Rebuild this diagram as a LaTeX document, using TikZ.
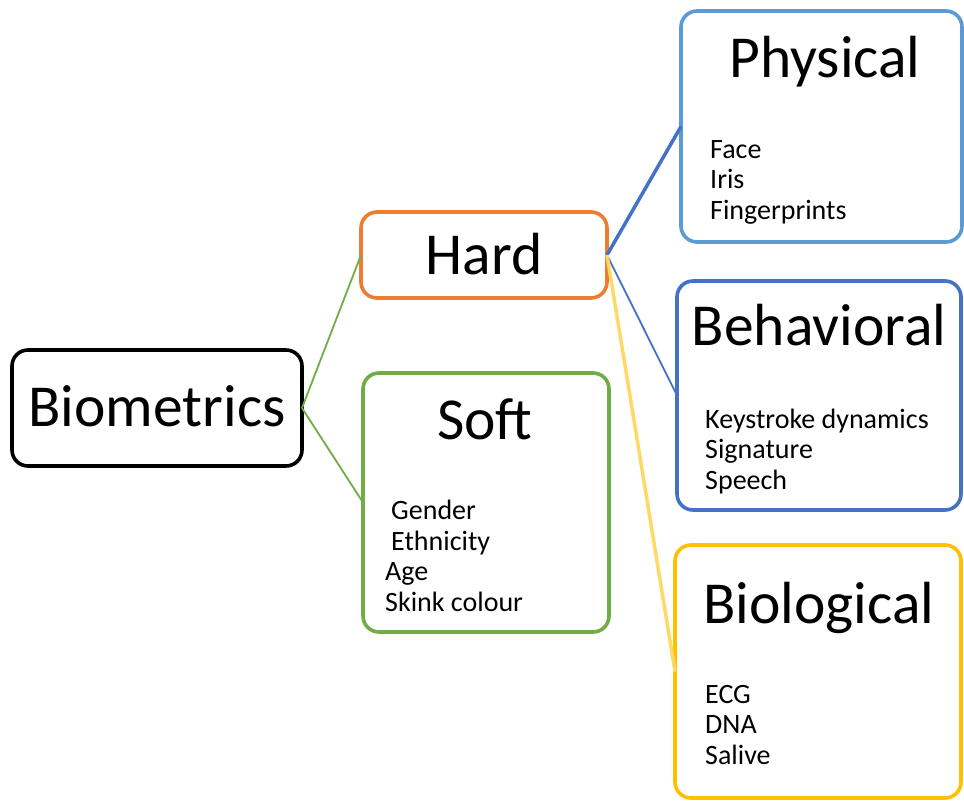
\documentclass[tikz,border=0pt]{standalone}
\usepackage{fontspec}
\setmainfont{Carlito}
\definecolor{hardorange}{HTML}{ED7D31}
\definecolor{softgreen}{HTML}{70AD47}
\definecolor{physblue}{HTML}{5B9BD5}
\definecolor{behblue}{HTML}{4472C4}
\definecolor{biogold}{HTML}{FFC000}
\definecolor{linkgold}{HTML}{FFD966}
\begin{document}
\begin{tikzpicture}[x=1pt,y=-1pt,
  box/.style={draw, line width=3.6pt, rounded corners=16pt, fill=white,
    inner sep=0pt, outer sep=0pt},
  title/.style={anchor=base, inner sep=0pt, font=\fontsize{59.5}{70}\selectfont},
  item/.style={anchor=base west, inner sep=0pt, font=\fontsize{28}{33}\selectfont},
  thinlink/.style={line width=1.8pt},
  thicklink/.style={line width=3.5pt}]
\useasboundingbox (0,0) rectangle (964,801);

% category boxes
\node[box, draw=black, minimum width=290pt, minimum height=116pt] (bio) at (157,408) {};
\node[box, draw=hardorange, minimum width=246pt, minimum height=86pt] (hard) at (484,255) {};
\node[box, draw=softgreen, minimum width=246pt, minimum height=259pt] (soft) at (486,502.5) {};
\node[box, draw=physblue, minimum width=281pt, minimum height=231pt] (phys) at (821.5,126.5) {};
\node[box, draw=behblue, minimum width=284pt, minimum height=229pt] (beh) at (819,395.5) {};
\node[box, draw=biogold, minimum width=286pt, minimum height=253pt] (biol) at (818,671.5) {};

% connectors
\draw[thinlink, softgreen] (bio.east) -- (hard.west);
\draw[thinlink, softgreen] (bio.east) -- (soft.west);
\draw[thicklink, behblue] (hard.east) -- (phys.west);
\draw[thinlink, behblue] (hard.east) -- (beh.west);
\draw[thicklink, linkgold] (hard.east) -- (biol.west);

% titles
\node[title] (tbio) at (157,426) {Biometrics};
\node[title] (thard) at (484,274) {Hard};
\node[title] (tsoft) at (485,439) {Soft};
\node[title] (tphys) at (825,77) {Physical};
\node[title] (tbeh) at (819,345) {Behavioral};
\node[title] (tbiol) at (819,623) {Biological};

% soft traits
\node[item] (s1) at (391,519) {Gender};
\node[item] (s2) at (391,550) {Ethnicity};
\node[item] (s3) at (385,580.5) {Age};
\node[item] (s4) at (385,611) {Skink colour};

% physical traits
\node[item] (p1) at (710,158) {Face};
\node[item] (p2) at (710,188.5) {Iris};
\node[item] (p3) at (710,219) {Fingerprints};

% behavioral traits
\node[item] (b1) at (705,428) {Keystroke dynamics};
\node[item] (b2) at (705,458.5) {Signature};
\node[item] (b3) at (705,489) {Speech};

% biological traits
\node[item] (g1) at (705,703) {ECG};
\node[item] (g2) at (705,733.5) {DNA};
\node[item] (g3) at (705,764) {Salive};
\end{tikzpicture}
\end{document}
